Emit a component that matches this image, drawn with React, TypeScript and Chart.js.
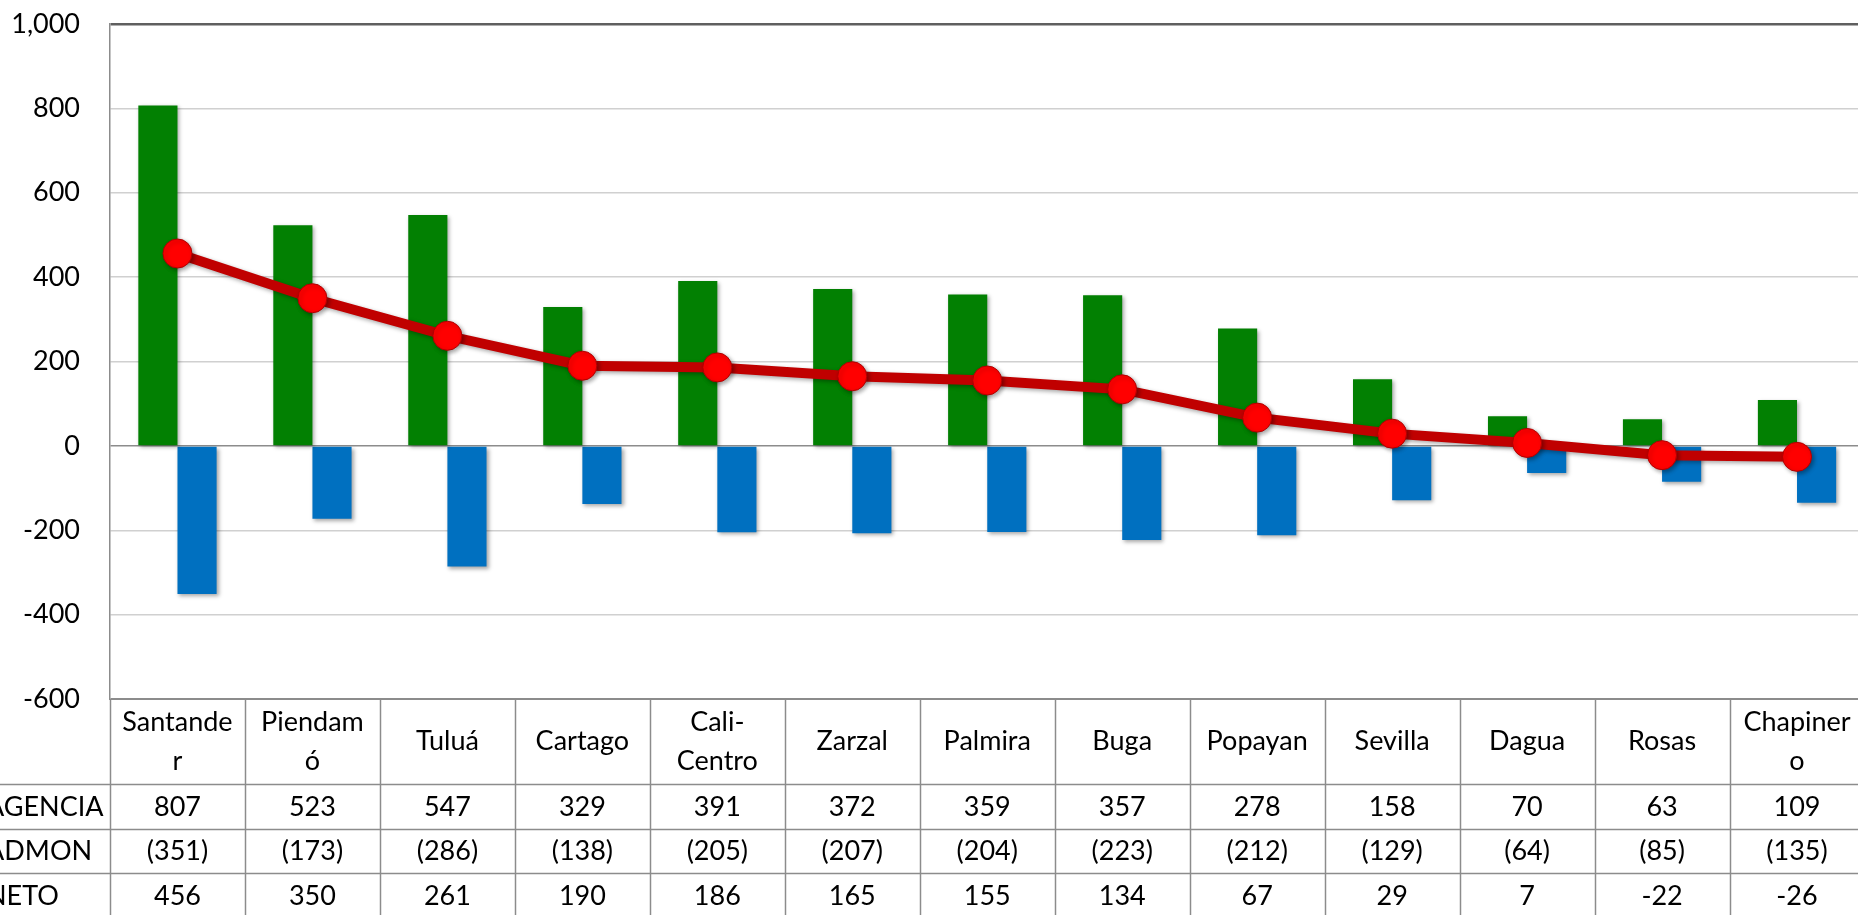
import React, { useEffect, useRef } from "react";
import { Chart, registerables } from "chart.js";

Chart.register(...registerables);

const categories = ["Santander", "Piendamó", "Tuluá", "Cartago", "Cali-Centro", "Zarzal", "Palmira", "Buga", "Popayan", "Sevilla", "Dagua", "Rosas", "Chapinero"];
const headerLines = [["Santande", "r"], ["Piendam", "ó"], ["Tuluá"], ["Cartago"], ["Cali-", "Centro"], ["Zarzal"], ["Palmira"], ["Buga"], ["Popayan"], ["Sevilla"], ["Dagua"], ["Rosas"], ["Chapiner", "o"]];
const agencia = [807, 523, 547, 329, 391, 372, 359, 357, 278, 158, 70, 63, 109];
const admon = [-351, -173, -286, -138, -205, -207, -204, -223, -212, -129, -64, -85, -135];
const neto = [456, 350, 261, 190, 186, 165, 155, 134, 67, 29, 7, -22, -26];
const rowNames = ["AGENCIA", "ADMON", "NETO"];
const yMin = -600;
const yMax = 1000;
const yStep = 200;

const fmtAdmon = (v: number) => (v < 0 ? `(${Math.abs(v)})` : `${v}`);
const fmtPlain = (v: number) => `${v}`;

const tablePlugin = {
  id: "dataTable",
  beforeDatasetDraw(chart: any) {
    const ctx = chart.ctx;
    ctx.save();
    ctx.shadowColor = "rgba(0,0,0,0.35)";
    ctx.shadowBlur = 4;
    ctx.shadowOffsetX = 2;
    ctx.shadowOffsetY = 2;
  },
  afterDatasetDraw(chart: any) {
    chart.ctx.restore();
  },
  afterDraw(chart: any) {
    const ctx = chart.ctx;
    const x = chart.scales.x;
    const area = chart.chartArea;
    const n = categories.length;
    const cw = (area.right - area.left) / n;
    const top = area.bottom;
    const headerH = 85;
    const rowH = 44.5;
    const bottom = chart.height;
    ctx.save();
    ctx.strokeStyle = "#8c8c8c";
    ctx.lineWidth = 1.5;
    for (let i = 0; i <= n; i++) {
      const px = Math.round(area.left + i * cw) + 0.5;
      ctx.beginPath();
      ctx.moveTo(px, top);
      ctx.lineTo(px, bottom);
      ctx.stroke();
    }
    for (let r = 0; r < 3; r++) {
      const py = Math.round(top + headerH + r * rowH) + 0.5;
      ctx.beginPath();
      ctx.moveTo(0, py);
      ctx.lineTo(area.right, py);
      ctx.stroke();
    }
    ctx.fillStyle = "#000";
    ctx.font = "27px Lato";
    ctx.textBaseline = "middle";
    ctx.textAlign = "center";
    const headerMid = top + headerH / 2;
    for (let i = 0; i < n; i++) {
      const cx = x.getPixelForValue(i);
      const lines = headerLines[i];
      const lh = 39;
      lines.forEach((ln, k) => {
        const y = headerMid + (k - (lines.length - 1) / 2) * lh;
        ctx.fillText(ln, cx, y);
      });
    }
    const rows = [agencia.map(fmtPlain), admon.map(fmtAdmon), neto.map(fmtPlain)];
    rows.forEach((vals, r) => {
      const cy = top + headerH + r * rowH + rowH / 2 + 1;
      ctx.textAlign = "left";
      ctx.fillText(rowNames[r], -14, cy);
      ctx.textAlign = "center";
      vals.forEach((v, i) => {
        ctx.fillText(v, x.getPixelForValue(i), cy);
      });
    });
    ctx.restore();
  },
};

export default function App() {
  const ref = useRef<HTMLCanvasElement>(null);
  useEffect(() => {
    if (!ref.current) return;
    const chart = new Chart(ref.current, {
      type: "bar",
      data: {
        labels: categories,
        datasets: [
          {
            type: "line",
            label: "NETO",
            data: neto,
            borderColor: "#C00000",
            borderWidth: 10,
            pointRadius: 14.5,
            pointHoverRadius: 14.5,
            pointBackgroundColor: "#FF0000",
            pointBorderColor: "#B00000",
            pointBorderWidth: 1,
            tension: 0,
            order: 0,
          } as any,
          {
            label: "AGENCIA",
            data: agencia,
            backgroundColor: "#028002",
            categoryPercentage: 0.58,
            barPercentage: 1.0,
            order: 1,
          },
          {
            label: "ADMON",
            data: admon,
            backgroundColor: "#0070C0",
            categoryPercentage: 0.58,
            barPercentage: 1.0,
            order: 1,
          },
        ],
      },
      options: {
        responsive: false,
        animation: false,
        devicePixelRatio: 1,
        layout: { padding: { left: 0, right: 11, top: 24, bottom: 216 } },
        plugins: { legend: { display: false }, tooltip: { enabled: false } },
        scales: {
          x: { display: false, offset: true },
          y: {
            min: yMin,
            max: yMax,
            afterFit: (s: any) => {
              s.width = 110;
              s.paddingTop = 0;
              s.paddingBottom = 0;
            },
            ticks: {
              stepSize: yStep,
              padding: 30,
              color: "#000",
              font: { family: "Lato", size: 27 },
              callback: (v: any) => Number(v).toLocaleString("en-US"),
            },
            grid: {
              drawTicks: false,
              color: (c: any) => {
                const v = c.tick?.value;
                if (v === yMax) return "#5f5f5f";
                if (v === 0) return "#8c8c8c";
                if (v === yMin) return "#8c8c8c";
                return "#d0d0d0";
              },
              lineWidth: (c: any) => {
                const v = c.tick?.value;
                if (v === yMax) return 2.5;
                if (v === yMin) return 2;
                return 1.5;
              },
            },
            border: { display: true, color: "#8c8c8c", width: 1.5 },
          },
        },
      },
      plugins: [tablePlugin],
    });
    return () => chart.destroy();
  }, []);
  return (
    <div style={{ position: "fixed", left: 0, top: 0, width: 1858, height: 915, overflow: "hidden", background: "#fff" }}>
      <canvas ref={ref} width={1880} height={915} style={{ width: 1880, height: 915, display: "block" }} />
    </div>
  );
}
